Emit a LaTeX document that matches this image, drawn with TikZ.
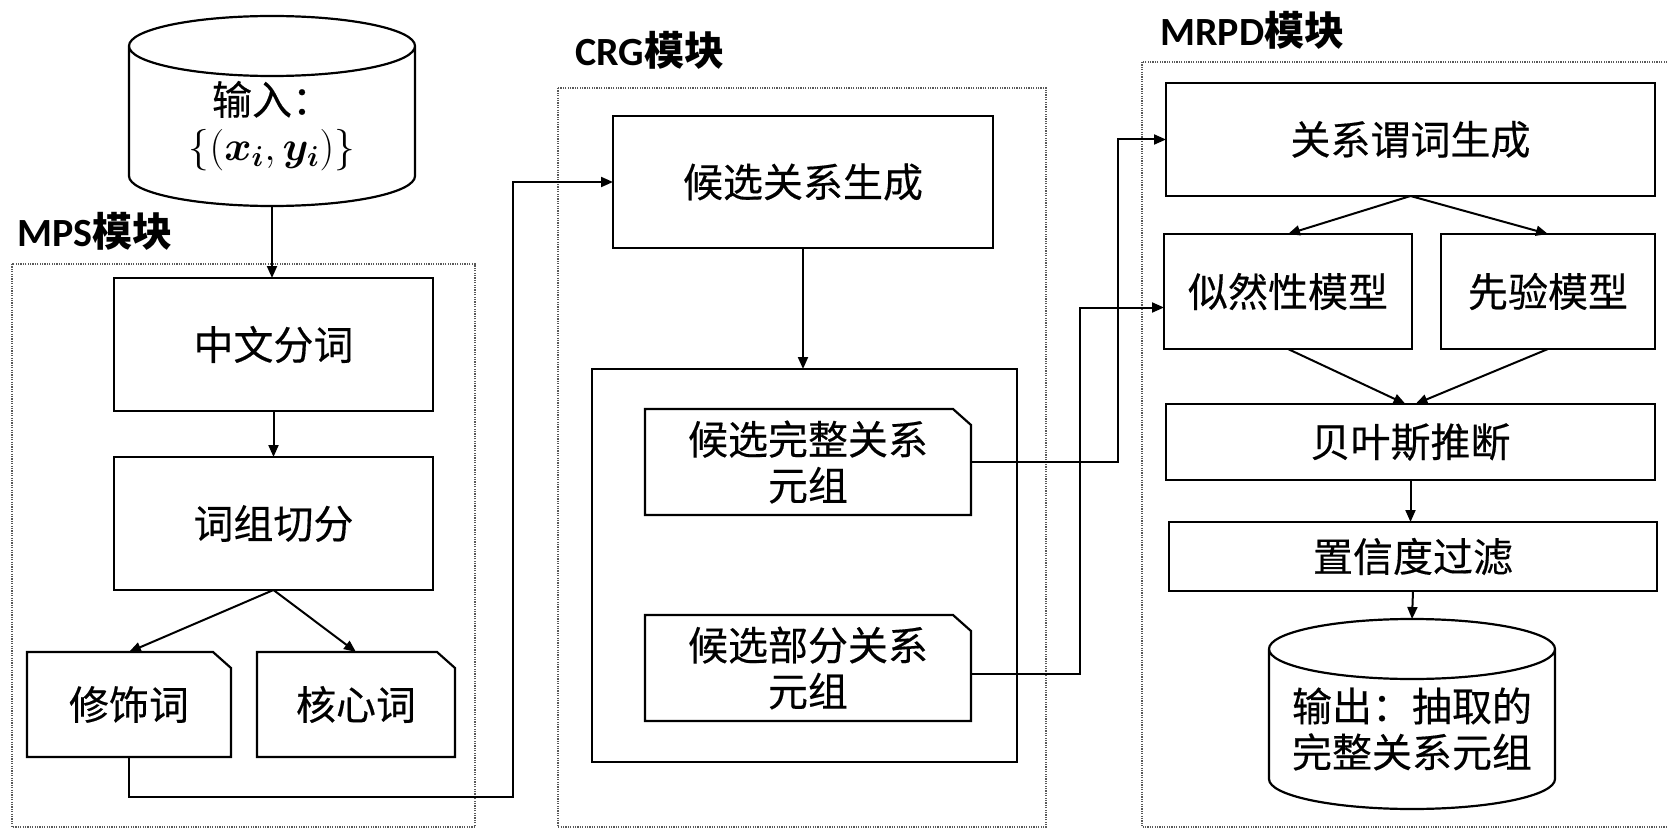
\documentclass[tikz,border=0pt]{standalone}
\usepackage[no-math]{fontspec}
\usepackage{bm}
\setmainfont{Noto Sans CJK SC}[UprightFeatures={FakeBold=0.35}]
\newfontfamily\calibri{Carlito}
\usetikzlibrary{positioning,arrows.meta}

\begin{document}
\begin{tikzpicture}[
  x=0.5pt, y=-0.5pt,
  font=\fontsize{20}{23}\selectfont, >={Triangle[length=6pt,width=5pt]},
  box/.style={draw,line width=1.1pt,inner sep=0pt,outer sep=0pt,align=center},
  card/.style={inner sep=0pt,outer sep=0pt,align=center},
  drum/.style={inner sep=0pt,outer sep=0pt,align=center,minimum width=143pt,minimum height=80pt},
  edge/.style={line width=1.1pt},
  link/.style={->,line width=1pt},
  module/.style={draw=black!65,line width=0.7pt,dash pattern=on 0.6pt off 0.6pt},
  tag/.style={anchor=west,inner sep=0pt,font=\fontsize{20}{23}\selectfont\bfseries}
]
\useasboundingbox (0,0) rectangle (1667,829);
\draw[module] (12,264) rectangle (475,827);
\draw[module] (558,88) rectangle (1046,827);
\draw[module] (1142,62) rectangle (1680,827);
\node[tag] (mpstag) at (17,231) {{\calibri MPS}模块};
\node[tag] (crgtag) at (575,50) {{\calibri CRG}模块};
\node[tag] (mrpdtag) at (1160,30) {{\calibri MRPD}模块};

\node[drum] (in) at (272,126) {输入：\\$\{(\bm{x_i},\bm{y_i})\}$};
\node[box,minimum width=159.5pt,minimum height=66.5pt] (seg) at (273.5,344.5) {中文分词};
\node[box,minimum width=159.5pt,minimum height=66.5pt] (phr) at (273.5,523.5) {词组切分};
\node[card,minimum width=102pt,minimum height=52.5pt] (mod) at (129,704.5) {修饰词};
\node[card,minimum width=99pt,minimum height=52.5pt] (core) at (356,704.5) {核心词};

\node[box,minimum width=190pt,minimum height=66pt] (gen) at (803,182) {候选关系生成};
\node[box,minimum width=212.5pt,minimum height=196.5pt] (pool) at (804.5,565.5) {};
\node[card,minimum width=163pt,minimum height=53pt] (full) at (808,462) {候选完整关系\\元组};
\node[card,minimum width=163pt,minimum height=53pt] (part) at (808,668) {候选部分关系\\元组};

\node[box,minimum width=244.5pt,minimum height=56.5pt] (pred) at (1410.5,139.5) {关系谓词生成};
\node[box,minimum width=124pt,minimum height=57.5pt] (like) at (1288,291.5) {似然性模型};
\node[box,minimum width=107pt,minimum height=57.5pt] (prior) at (1548,291.5) {先验模型};
\node[box,minimum width=244.5pt,minimum height=38pt] (bayes) at (1410.5,442) {贝叶斯推断};
\node[box,minimum width=244pt,minimum height=34.5pt] (conf) at (1413,556.5) {置信度过滤};
\node[drum] (out) at (1412,729) {输出：抽取的\\完整关系元组};

\foreach \n in {mod,core,full,part}
  \draw[edge] (\n.south west) -- (\n.north west) -- ([xshift=-9pt]\n.north east)
    -- ([yshift=-8pt]\n.north east) -- (\n.south east) -- cycle;
\foreach \c in {in,out}
  \draw[edge] (\c.north west) -- ([yshift=15pt]\c.south west)
    arc[start angle=180,end angle=360,x radius=71.5pt,y radius=15pt]
    -- (\c.north east) arc[start angle=0,end angle=360,x radius=71.5pt,y radius=15pt];

\coordinate (lane1) at (513,797);
\coordinate (lane2) at (1118,0);
\coordinate (lane3) at (1080,0);
\draw[link] (in.south) -- (in.south |- seg.north);
\draw[link] (seg) -- (phr);
\draw[link] (phr.south) -- (mod.north);
\draw[link] (phr.south) -- (core.north);
\draw[link] (mod.south) |- (lane1) |- (gen.west);
\draw[link] (gen.south) -- (gen.south |- pool.north);
\draw[link] (full.east) -- (full.east -| lane2) |- (pred.west);
\draw[link] ([yshift=-3pt]part.east) -- ([yshift=-3pt]part.east -| lane3) |- ([yshift=-8pt]like.west);
\draw[link] (pred.south) -- (like.north);
\draw[link] (pred.south) -- (prior.north);
\draw[link] (like.south) -- ([xshift=-2.5pt]bayes.north);
\draw[link] (prior.south) -- ([xshift=2.5pt]bayes.north);
\draw[link] (bayes.south) -- (bayes.south |- conf.north);
\draw[link] (conf.south) -- ([yshift=15pt]out.north);
\end{tikzpicture}
\end{document}
